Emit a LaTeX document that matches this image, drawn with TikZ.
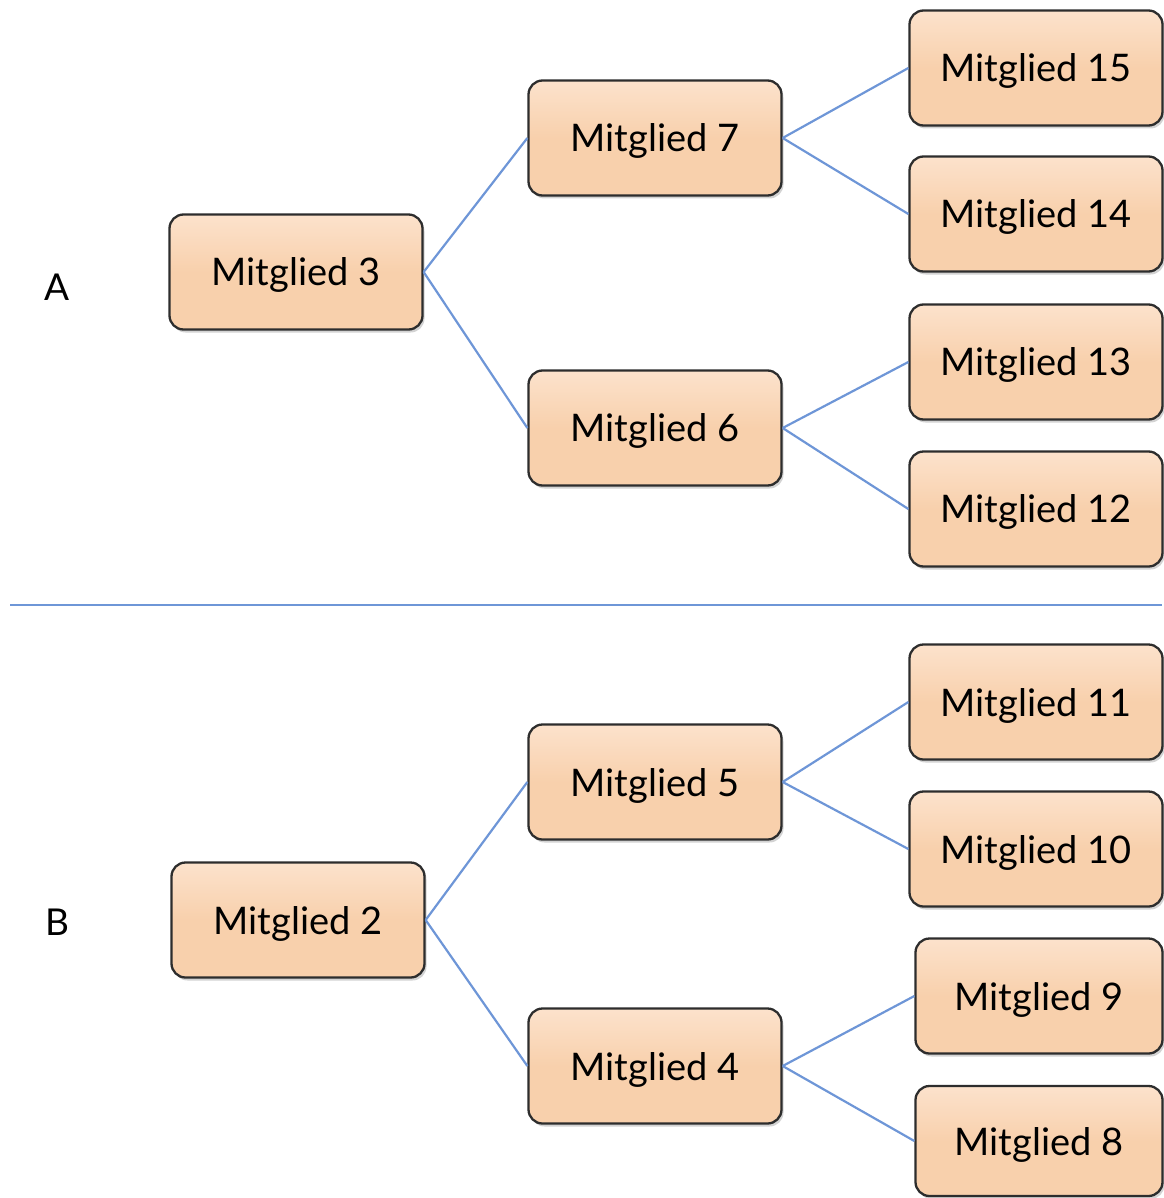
\documentclass[tikz,border=0pt]{standalone}
\usepackage{fontspec}
\setmainfont{Lato}
\usetikzlibrary{shadows}
\definecolor{peach}{RGB}{248,208,172}
\definecolor{peachlight}{RGB}{252,226,204}
\definecolor{boxline}{RGB}{45,45,45}
\definecolor{linkblue}{RGB}{110,150,215}
\begin{document}
\begin{tikzpicture}[x=1pt,y=-1pt,
  member/.style={draw=boxline, line width=2.3pt, rounded corners=14pt,
    top color=peachlight, bottom color=peach, middle color=peach,
    minimum width=253pt, minimum height=115pt, inner sep=0pt,
    font=\fontsize{38}{44}\selectfont, text depth=0pt,
    drop shadow={shadow xshift=2pt, shadow yshift=-3pt, opacity=0.35}},
  link/.style={draw=linkblue, line width=2.2pt},
  lab/.style={font=\fontsize{37}{44}\selectfont}]
\useasboundingbox (0,0) rectangle (1163,1198);
% section A
\node[lab] (A) at (57,287) {A};
\node[member] (m3) at (296,272) {Mitglied 3};
\node[member] (m7) at (655,138) {Mitglied 7};
\node[member] (m6) at (655,428) {Mitglied 6};
\node[member] (m15) at (1036,68) {Mitglied 15};
\node[member] (m14) at (1036,214) {Mitglied 14};
\node[member] (m13) at (1036,362) {Mitglied 13};
\node[member] (m12) at (1036,509) {Mitglied 12};
% divider
\coordinate (dl) at (10,605);
\coordinate (dr) at (1162,605);
\draw[link] (dl) -- (dr);
% section B
\node[lab] (B) at (57,922) {B};
\node[member] (m2) at (298,920) {Mitglied 2};
\node[member] (m5) at (655,782) {Mitglied 5};
\node[member] (m4) at (655,1066) {Mitglied 4};
\node[member] (m11) at (1036,702) {Mitglied 11};
\node[member] (m10) at (1036,849) {Mitglied 10};
\node[member, minimum width=247pt] (m9) at (1039,996) {Mitglied 9};
\node[member, minimum width=247pt, minimum height=110pt] (m8) at (1039,1141) {Mitglied 8};
% links
\draw[link] (m3.east) -- (m7.west);
\draw[link] (m3.east) -- (m6.west);
\draw[link] (m7.east) -- (m15.west);
\draw[link] (m7.east) -- (m14.west);
\draw[link] (m6.east) -- (m13.west);
\draw[link] (m6.east) -- (m12.west);
\draw[link] (m2.east) -- (m5.west);
\draw[link] (m2.east) -- (m4.west);
\draw[link] (m5.east) -- (m11.west);
\draw[link] (m5.east) -- (m10.west);
\draw[link] (m4.east) -- (m9.west);
\draw[link] (m4.east) -- (m8.west);
\end{tikzpicture}
\end{document}
